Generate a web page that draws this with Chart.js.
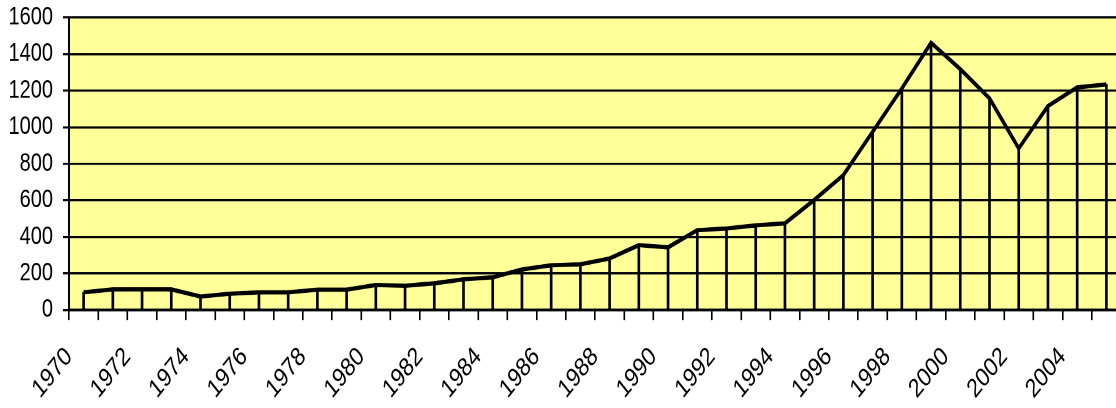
<!DOCTYPE html>
<html>
<head>
<meta charset="utf-8">
<script src="https://cdn.jsdelivr.net/npm/chart.js@4.4.1/dist/chart.umd.min.js"></script>
<style>
  html, body { margin: 0; padding: 0; background: #ffffff; overflow: hidden; }
  #wrap { width: 1116px; height: 408px; overflow: hidden; position: relative; }
</style>
</head>
<body>
<div id="wrap">
  <!-- drawing surface is 326 units tall, shown 408px tall (tall, narrow lettering) -->
  <canvas id="c" width="1121" height="326" style="width:1121px;height:408px;display:block"></canvas>
</div>
<script>
// Years on the category axis
const years = [
  '1970','1971','1972','1973','1974','1975','1976','1977','1978','1979',
  '1980','1981','1982','1983','1984','1985','1986','1987','1988','1989',
  '1990','1991','1992','1993','1994','1995','1996','1997','1998','1999',
  '2000','2001','2002','2003','2004','2005'
];

// Yearly values
const values = [
  97, 113, 113, 113, 74, 89, 97, 97, 111, 111,
  137, 133, 146, 168, 179, 222, 245, 250, 282, 355,
  343, 437, 446, 463, 474, 602, 738, 975, 1212, 1462,
  1318, 1158, 884, 1116, 1218, 1234
];

// Value axis ticks
const yMin = 0;
const yMax = 1600;
const yStep = 200;

const FONT = "'Liberation Sans', Arial, sans-serif";

// pale yellow plot area behind grid and series
const plotFill = {
  id: 'plotFill',
  beforeDraw(chart) {
    const { ctx, chartArea: a } = chart;
    ctx.save();
    ctx.fillStyle = '#FFFF99';
    ctx.fillRect(a.left, a.top, a.right - a.left, a.bottom - a.top);
    ctx.restore();
  }
};

new Chart(document.getElementById('c'), {
  type: 'bar',
  data: {
    labels: years,
    datasets: [
      {
        type: 'line',
        data: values,
        borderColor: '#000000',
        borderWidth: 3.4,
        pointRadius: 0,
        tension: 0,
        fill: false,
        order: 0
      },
      {
        // drop lines from each point down to the axis
        type: 'bar',
        data: values,
        backgroundColor: '#000000',
        borderWidth: 0,
        barThickness: 2,
        order: 1
      }
    ]
  },
  options: {
    responsive: false,
    animation: false,
    devicePixelRatio: 2,
    events: [],
    layout: { padding: { top: 14, left: 0, right: 0, bottom: 0 } },
    plugins: {
      legend: { display: false },
      tooltip: { enabled: false },
      title: { display: false }
    },
    scales: {
      x: {
        offset: true,
        grid: {
          offset: true,
          drawOnChartArea: false,
          drawTicks: true,
          tickLength: 8,
          color: '#000000',
          lineWidth: 1.6
        },
        border: { color: '#000000', width: 2 },
        ticks: {
          autoSkip: false,
          minRotation: 45,
          maxRotation: 45,
          padding: 17,
          labelOffset: -14.6,
          color: '#000000',
          font: { family: FONT, size: 21 },
          callback: function (v, i) { return i % 2 === 0 ? years[i] : ''; }
        },
        afterFit(scale) {
          scale.height = 78.3;
          scale.paddingLeft = 0;
          scale.paddingRight = 0;
        }
      },
      y: {
        min: yMin,
        max: yMax,
        grid: {
          color: '#000000',
          lineWidth: 1.7,
          drawTicks: true,
          tickLength: 6
        },
        border: { color: '#000000', width: 2 },
        ticks: {
          stepSize: yStep,
          padding: 10,
          color: '#000000',
          font: { family: FONT, size: 20 },
          callback: function (v) { return String(v); }
        },
        afterFit(scale) {
          scale.width = 69;
          scale.paddingTop = 0;
          scale.paddingBottom = 0;
        }
      }
    }
  },
  plugins: [plotFill]
});
</script>
</body>
</html>
